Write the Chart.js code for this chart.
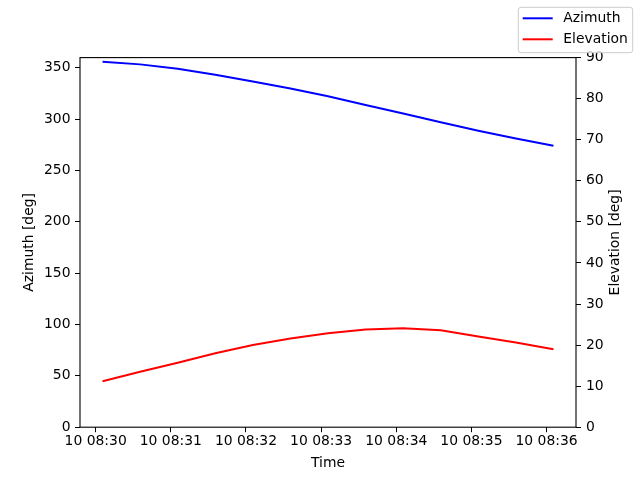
<!DOCTYPE html>
<html>
<head>
<meta charset="utf-8">
<script src="https://cdn.jsdelivr.net/npm/chart.js@4/dist/chart.umd.min.js"></script>
<style>
  html, body { margin: 0; padding: 0; background: #fff; }
  #wrap { width: 640px; height: 480px; }
</style>
</head>
<body>
<div id="wrap"><canvas id="c" width="640" height="480"></canvas></div>
<script>
// ---- data ----
const times = ["08:30:05.5","08:30:35.5","08:31:05.5","08:31:35.5","08:32:05.5","08:32:35.5","08:33:05.5",
               "08:33:35.5","08:34:05.5","08:34:35.5","08:35:05.5","08:35:35.5","08:36:05.5"];
const azimuth = [356.0, 353.4, 349.2, 343.2, 336.8, 330.0, 322.3, 313.8, 305.6, 297.0, 288.8, 281.3, 274.2];
const elevation = [11.2, 13.5, 15.7, 18.0, 20.0, 21.6, 22.9, 23.8, 24.1, 23.6, 22.1, 20.6, 19.0];
const tickTimes = ["08:30","08:31","08:32","08:33","08:34","08:35","08:36"];
const azTicks = [0, 50, 100, 150, 200, 250, 300, 350];
const elTicks = [0, 10, 20, 30, 40, 50, 60, 70, 80, 90];
const dayLabel = "10";
const seriesNames = ["Azimuth", "Elevation"];
const axisTitles = { x: "Time", y: "Azimuth [deg]", y1: "Elevation [deg]" };

// ---- helpers ----
const BASE = 8 * 3600 + 30 * 60; // seconds of 08:30:00
function toSec(s) {
  const p = s.split(':').map(parseFloat);
  return p[0] * 3600 + p[1] * 60 + (p[2] || 0) - BASE;
}
const xs = times.map(toSec);
const tickVals = tickTimes.map(toSec);
const span = xs[xs.length - 1] - xs[0];
const xMin = xs[0] - 0.05 * span, xMax = xs[xs.length - 1] + 0.05 * span;

const FONT = "DejaVu Sans";
const FS = 13.9;

const framePlugin = {
  id: 'frame',
  afterDraw(chart) {
    const { ctx, chartArea: a } = chart;
    ctx.save();
    ctx.strokeStyle = '#000';
    ctx.lineWidth = 1.1;
    ctx.strokeRect(a.left, a.top, a.right - a.left, a.bottom - a.top);

    // right axis title (reads bottom-to-top)
    ctx.fillStyle = '#000';
    ctx.font = FS + 'px "' + FONT + '"';
    ctx.textAlign = 'center';
    ctx.textBaseline = 'middle';
    ctx.translate(615, (a.top + a.bottom) / 2);
    ctx.rotate(-Math.PI / 2);
    ctx.fillText(axisTitles.y1, 0, 0);
    ctx.restore();

    // figure legend (upper right)
    ctx.save();
    const bx = 518.3, by = 7.3, bw = 114.4, bh = 45.4, r = 2.8;
    ctx.beginPath();
    ctx.moveTo(bx + r, by);
    ctx.lineTo(bx + bw - r, by);
    ctx.arcTo(bx + bw, by, bx + bw, by + r, r);
    ctx.lineTo(bx + bw, by + bh - r);
    ctx.arcTo(bx + bw, by + bh, bx + bw - r, by + bh, r);
    ctx.lineTo(bx + r, by + bh);
    ctx.arcTo(bx, by + bh, bx, by + bh - r, r);
    ctx.lineTo(bx, by + r);
    ctx.arcTo(bx, by, bx + r, by, r);
    ctx.closePath();
    ctx.fillStyle = 'rgba(255,255,255,0.8)';
    ctx.fill();
    ctx.strokeStyle = '#cccccc';
    ctx.lineWidth = 1;
    ctx.stroke();
    const rows = [18.3, 39.3];
    chart.data.datasets.forEach((ds, i) => {
      ctx.strokeStyle = ds.borderColor;
      ctx.lineWidth = 2;
      ctx.beginPath();
      ctx.moveTo(522.7, rows[i]);
      ctx.lineTo(552.7, rows[i]);
      ctx.stroke();
      ctx.fillStyle = '#000';
      ctx.font = FS + 'px "' + FONT + '"';
      ctx.textAlign = 'left';
      ctx.textBaseline = 'middle';
      ctx.fillText(ds.label, 563.3, rows[i] + 0.5);
    });
    ctx.restore();
  }
};

const tickGrid = { display: true, drawOnChartArea: false, drawTicks: true, tickLength: 5, color: '#000', lineWidth: 1 };

new Chart(document.getElementById('c'), {
  type: 'line',
  data: {
    datasets: [
      { label: seriesNames[0], data: xs.map((x, i) => ({ x, y: azimuth[i] })), yAxisID: 'y',
        borderColor: '#0000ff', backgroundColor: '#0000ff', borderWidth: 2, pointRadius: 0, tension: 0, fill: false },
      { label: seriesNames[1], data: xs.map((x, i) => ({ x, y: elevation[i] })), yAxisID: 'y1',
        borderColor: '#ff0000', backgroundColor: '#ff0000', borderWidth: 2, pointRadius: 0, tension: 0, fill: false }
    ]
  },
  options: {
    responsive: false,
    animation: false,
    devicePixelRatio: 1,
    layout: { padding: { top: 57.6, left: 0, right: 0, bottom: 0 } },
    plugins: { legend: { display: false }, tooltip: { enabled: false } },
    font: { family: FONT, size: FS },
    scales: {
      x: {
        type: 'linear', position: 'bottom', min: xMin, max: xMax,
        grid: tickGrid, border: { display: false },
        afterBuildTicks: (axis) => { axis.ticks = tickVals.map(v => ({ value: v })); },
        afterFit: (s) => { s.height = 52.8; },
        ticks: {
          color: '#000', padding: 1, maxRotation: 0, autoSkip: false,
          font: { family: FONT, size: FS },
          callback: (v) => {
            const m = Math.round(v / 60) + 30;
            return dayLabel + ' 08:' + String(m).padStart(2, '0');
          }
        },
        title: { display: true, text: axisTitles.x, color: '#000', font: { family: FONT, size: FS }, padding: { top: 0, bottom: 8.5 } }
      },
      y: {
        type: 'linear', position: 'left', min: 0, max: 360,
        grid: tickGrid, border: { display: false },
        afterFit: (s) => { s.width = 80; },
        afterBuildTicks: (axis) => { axis.ticks = azTicks.map(v => ({ value: v })); },
        ticks: { color: '#000', padding: 4.5, autoSkip: false, font: { family: FONT, size: FS },
          callback: (v) => String(v) },
        title: { display: true, text: axisTitles.y, color: '#000', font: { family: FONT, size: FS }, padding: { top: 21, bottom: 0 } }
      },
      y1: {
        type: 'linear', position: 'right', min: 0, max: 90,
        grid: tickGrid, border: { display: false },
        afterFit: (s) => { s.width = 64; },
        afterBuildTicks: (axis) => { axis.ticks = elTicks.map(v => ({ value: v })); },
        ticks: { color: '#000', padding: 5, autoSkip: false, font: { family: FONT, size: FS },
          callback: (v) => String(v) },
        title: { display: false }
      }
    }
  },
  plugins: [framePlugin]
});
</script>
</body>
</html>
